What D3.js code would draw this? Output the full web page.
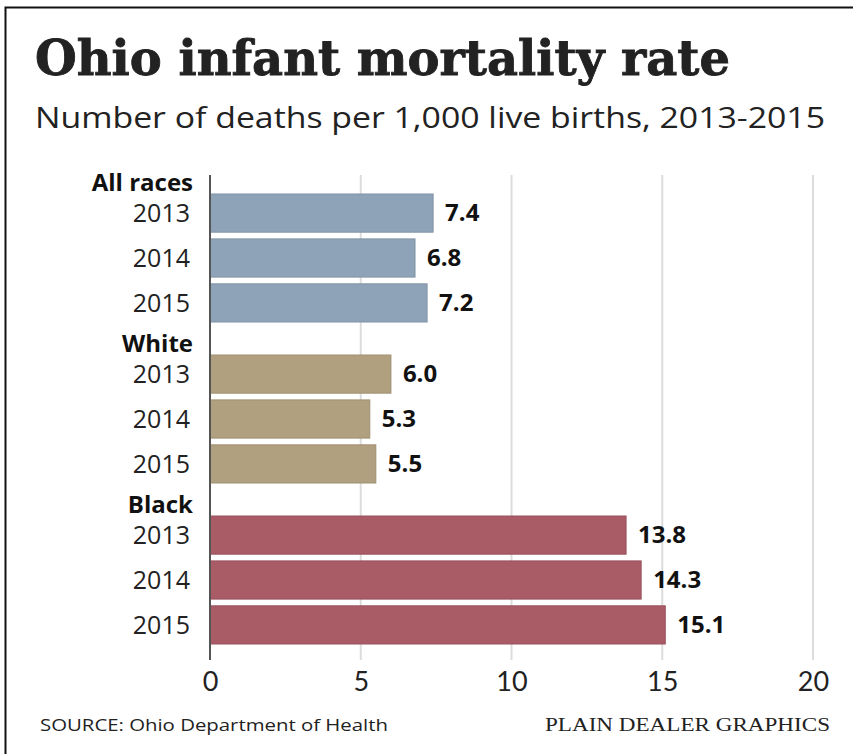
<!DOCTYPE html>
<html>
<head>
<meta charset="utf-8">
<title>Ohio infant mortality rate</title>
<script src="https://d3js.org/d3.v7.min.js"></script>
<style>
  body { margin: 0; background: #fff; }
  svg { display: block; }
  .title { font-family: "DejaVu Serif Condensed", "DejaVu Serif", serif; font-weight: 900; font-size: 49px; fill: #222; stroke: #222; stroke-width: 0.8px; }
  .sub { font-family: "Open Sans", sans-serif; font-size: 30px; fill: #222; }
  .year { font-family: "Open Sans", sans-serif; font-size: 25px; fill: #222; }
  .grp { font-family: "Open Sans", sans-serif; font-weight: bold; font-size: 24px; fill: #111; }
  .val { font-family: "Open Sans", sans-serif; font-weight: bold; font-size: 24px; fill: #111; }
  .tick text { font-family: "Lato", sans-serif; font-size: 27px; fill: #222; }
  .src { font-family: "Open Sans", sans-serif; font-size: 16px; fill: #222; }
  .pd { font-family: "Liberation Serif", serif; font-size: 18px; fill: #222; }
</style>
</head>
<body>
<svg id="chart" width="853" height="754"></svg>
<script>
// data
var groups = ["All races", "White", "Black"];
var years = ["2013", "2014", "2015"];
var allRaces = [7.4, 6.8, 7.2];
var white = [6.0, 5.3, 5.5];
var black = [13.8, 14.3, 15.1];
var colors = ["#8fa3b8", "#b1a07f", "#a95b66"];
var xTicks = [0, 5, 10, 15, 20];

var series = [allRaces, white, black];

var svg = d3.select("#chart");

// frame
svg.append("rect")
    .attr("x", 5.5).attr("y", 7.5)
    .attr("width", 860).attr("height", 760)
    .attr("fill", "none").attr("stroke", "#111").attr("stroke-width", 2);

svg.append("text").attr("class", "title")
    .attr("x", 35).attr("y", 75)
    .attr("textLength", 695).attr("lengthAdjust", "spacingAndGlyphs")
    .text("Ohio infant mortality rate");

svg.append("text").attr("class", "sub")
    .attr("x", 35).attr("y", 128)
    .attr("textLength", 790).attr("lengthAdjust", "spacingAndGlyphs")
    .text("Number of deaths per 1,000 live births, 2013-2015");

var x = d3.scaleLinear().domain([0, 20]).range([210, 813]);

var gy = d3.scaleBand().domain(groups).range([161, 644]);
var yy = d3.scaleBand().domain(years).range([33, 161]).paddingInner(0.15).paddingOuter(0);

// grid
svg.append("g").selectAll("line")
    .data(xTicks.slice(1))
    .join("line")
    .attr("x1", d => x(d)).attr("x2", d => x(d))
    .attr("y1", 175).attr("y2", 660)
    .attr("stroke", "#dcdcdc").attr("stroke-width", 2);

// groups
groups.forEach(function(g, gi) {
    var grp = svg.append("g").attr("transform", "translate(0," + gy(g) + ")");

    grp.append("text").attr("class", "grp")
        .attr("x", 193).attr("y", 30)
        .attr("text-anchor", "end")
        .text(g);

    var rows = years.map((yr, i) => ({ year: yr, value: series[gi][i] }));

    grp.selectAll("rect")
        .data(rows)
        .join("rect")
        .attr("x", x(0))
        .attr("y", d => yy(d.year))
        .attr("width", d => x(d.value) - x(0))
        .attr("height", yy.bandwidth())
        .attr("fill", colors[gi])
        .attr("stroke", d3.color(colors[gi]).darker(0.3))
        .attr("stroke-width", 1);

    grp.selectAll("text.year")
        .data(rows)
        .join("text")
        .attr("class", "year")
        .attr("x", 190)
        .attr("y", d => yy(d.year) + yy.bandwidth() / 2 + 9)
        .attr("text-anchor", "end")
        .text(d => d.year);

    grp.selectAll("text.val")
        .data(rows)
        .join("text")
        .attr("class", "val")
        .attr("x", d => x(d.value) + 12)
        .attr("y", d => yy(d.year) + yy.bandwidth() / 2 + 8)
        .text(d => d.value.toFixed(1));
});

// zero axis line
svg.append("line")
    .attr("x1", x(0)).attr("x2", x(0))
    .attr("y1", 175).attr("y2", 660)
    .attr("stroke", "#555").attr("stroke-width", 2);

// x axis labels
var xAxis = d3.axisBottom(x).tickValues(xTicks).tickSize(0).tickPadding(0);
svg.append("g")
    .attr("transform", "translate(0,669)")
    .call(xAxis)
    .call(g => g.select(".domain").remove())
    .call(g => g.selectAll("text").attr("dy", "0.8em"));

svg.append("text").attr("class", "src")
    .attr("x", 40).attr("y", 731)
    .attr("textLength", 348).attr("lengthAdjust", "spacingAndGlyphs")
    .text("SOURCE: Ohio Department of Health");

svg.append("text").attr("class", "pd")
    .attr("x", 830).attr("y", 731)
    .attr("text-anchor", "end")
    .attr("textLength", 285).attr("lengthAdjust", "spacingAndGlyphs")
    .text("PLAIN DEALER GRAPHICS");
</script>
</body>
</html>
